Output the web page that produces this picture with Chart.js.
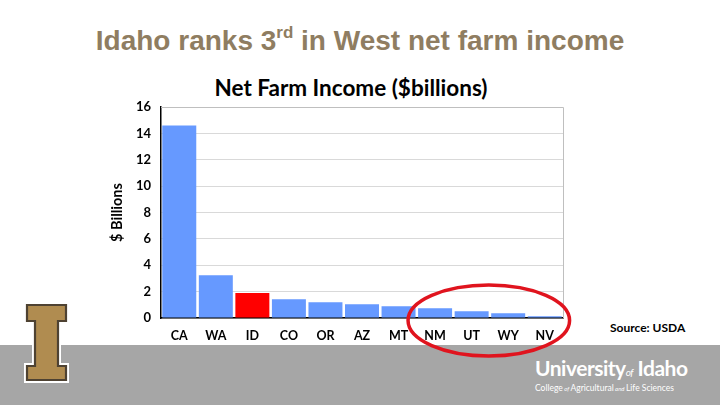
<!DOCTYPE html>
<html>
<head>
<meta charset="utf-8">
<script src="https://cdn.jsdelivr.net/npm/chart.js@4/dist/chart.umd.min.js"></script>
<style>
  html, body { margin:0; padding:0; background:#fff; }
  #wrap { position:relative; width:720px; height:405px; overflow:hidden; background:#fff; }
  #band { position:absolute; left:0; top:345px; width:720px; height:60px; background:#a6a6a6; }
  #headline { position:absolute; left:0; top:25px; width:720px; text-align:center;
     font-family:"Liberation Sans", Arial, sans-serif; font-weight:bold; font-size:28px; color:#8f7d61; }
  #headline sup { font-size:17px; vertical-align:top; position:relative; top:-2px; }
  #ctitle { position:absolute; left:190px; top:74px; width:322px; text-align:center;
     font-family:Lato, "Open Sans", sans-serif; font-weight:bold; font-size:22.5px; color:#000; }
  #source { position:absolute; left:610px; top:320px; font-family:Lato, sans-serif; font-weight:bold;
     font-size:12px; color:#000; }
  #uni { position:absolute; left:535px; top:357px; color:#fff; font-family:Lato, "Open Sans", sans-serif; }
  #uni .big { font-size:21px; font-weight:bold; letter-spacing:-0.5px; line-height:22px; }
  #uni .big i { font-size:10px; font-weight:normal; }
  #uni .small { font-size:8.5px; line-height:11px; }
  #uni .small i { font-size:6px; }
  #logo { position:absolute; left:22px; top:300px; }
  canvas { position:absolute; left:0; top:0; }
</style>
</head>
<body>
<div id="wrap">
  <div id="band"></div>
  <svg id="logo" width="52" height="90" viewBox="0 0 52 90">
    <path d="M5 5 H44 V21 H36 V66 H44 V80 H5 V66 H13 V21 H5 Z" fill="#b08c50" stroke="#fff" stroke-width="6" stroke-linejoin="miter"/>
    <path d="M5 5 H44 V21 H36 V66 H44 V80 H5 V66 H13 V21 H5 Z" fill="#b08c50" stroke="#4e4232" stroke-width="2.2" stroke-linejoin="miter"/>
  </svg>
  <div id="headline">Idaho ranks 3<sup>rd</sup> in West net farm income</div>
  <div id="ctitle">Net Farm Income ($billions)</div>
  <div id="source">Source: USDA</div>
  <div id="uni"><div class="big">University<i>of</i> Idaho</div><div class="small">College<i> of </i>Agricultural<i> and </i>Life Sciences</div></div>
  <canvas id="c" width="720" height="405"></canvas>
</div>
<script>
const states = ["CA","WA","ID","CO","OR","AZ","MT","NM","UT","WY","NV"];
const netIncome = [14.6, 3.24, 1.9, 1.42, 1.19, 1.04, 0.89, 0.73, 0.51, 0.36, 0.13];
const highlightState = "ID";
const circledFrom = "NM";
const circledTo = "NV";
const yTicks = [0, 2, 4, 6, 8, 10, 12, 14, 16];

const barColors = states.map(s => s === highlightState ? "#ff0000" : "#6699ff");

const ellipsePlugin = {
  id: "ellipse",
  afterDraw(chart) {
    const x = chart.scales.x, y = chart.scales.y;
    const i0 = states.indexOf(circledFrom), i1 = states.indexOf(circledTo);
    const step = x.getPixelForValue(1) - x.getPixelForValue(0);
    const left = x.getPixelForValue(i0) - step * 0.74;
    const right = x.getPixelForValue(i1) + step * 0.68;
    const top = y.getPixelForValue(2.5);
    const bottom = y.bottom + 38;
    const ctx = chart.ctx;
    ctx.save();
    ctx.strokeStyle = "#e0141e";
    ctx.lineWidth = 3.5;
    ctx.beginPath();
    ctx.ellipse((left + right) / 2, (top + bottom) / 2, (right - left) / 2, (bottom - top) / 2, 0, 0, Math.PI * 2);
    ctx.stroke();
    ctx.restore();
  }
};

new Chart(document.getElementById("c"), {
  type: "bar",
  data: {
    labels: states,
    datasets: [{ data: netIncome, backgroundColor: barColors, borderWidth: 0,
                 barPercentage: 0.93, categoryPercentage: 1.0 }]
  },
  options: {
    responsive: false,
    animation: false,
    layout: { padding: { left: 109, right: 157, top: 107, bottom: 0 } },
    plugins: { legend: { display: false }, tooltip: { enabled: false }, title: { display: false } },
    scales: {
      x: {
        grid: { display: false, drawTicks: false },
        border: { color: "#000", width: 1.5 },
        ticks: { color: "#000", font: { family: "Lato, sans-serif", weight: "bold", size: 12.5 }, padding: 10, maxRotation: 0 },
        afterFit(scale) { scale.height = 87; }
      },
      y: {
        min: 0, max: 16,
        afterBuildTicks(scale) { scale.ticks = yTicks.map(v => ({ value: v })); },
        grid: { color: "#d9d9d9", drawTicks: false, lineWidth: 1 },
        border: { color: "#000", width: 1.5 },
        ticks: { color: "#000", font: { family: "Lato, sans-serif", weight: "bold", size: 13 }, padding: 10 },
        title: { display: true, text: "$ Billions", color: "#000",
                 font: { family: "Lato, sans-serif", weight: "bold", size: 14.5 }, padding: { top: 0, bottom: 2 } },
        afterFit(scale) { scale.width = 52; }
      }
    }
  },
  plugins: [ellipsePlugin, {
    id: "frame",
    beforeDatasetsDraw(chart) {
      const a = chart.chartArea, ctx = chart.ctx;
      ctx.save();
      ctx.strokeStyle = "#bfbfbf";
      ctx.lineWidth = 1;
      ctx.beginPath();
      ctx.moveTo(a.left, a.top + 0.5); ctx.lineTo(a.right + 0.5, a.top + 0.5); ctx.lineTo(a.right + 0.5, a.bottom);
      ctx.stroke();
      ctx.restore();
    }
  }]
});
</script>
</body>
</html>
